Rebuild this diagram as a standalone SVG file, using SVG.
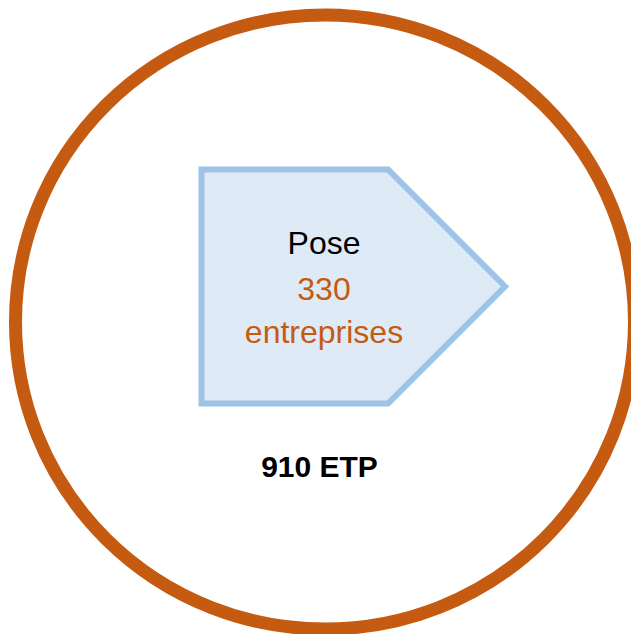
<svg xmlns="http://www.w3.org/2000/svg" width="631" height="634" viewBox="0 0 631 634">
<style>
.t{font-family:"Liberation Sans",Arial,sans-serif;text-anchor:middle}
.o{fill:#C55A11}
</style>
<rect width="631" height="634" fill="#FFFFFF"/>
<g id="circle">
<ellipse cx="325" cy="322" rx="309.5" ry="307" fill="none" stroke="#C55A11" stroke-width="13"/>
</g>
<g id="pose">
<polygon points="201.5,169.5 388,169.5 505,286.5 388,403.5 201.5,403.5" fill="#DEEAF6" stroke="#9DC3E6" stroke-width="6"/>
<text class="t" x="324" y="254" font-size="32" fill="#000000">Pose</text>
<text class="t o" x="324" y="300" font-size="32">330</text>
<text class="t o" x="324" y="343" font-size="32">entreprises</text>
</g>
<g id="etp">
<text class="t" x="319.5" y="477" font-size="30" font-weight="bold" fill="#000000">910 ETP</text>
</g>
<g id="connectors"/>
</svg>
